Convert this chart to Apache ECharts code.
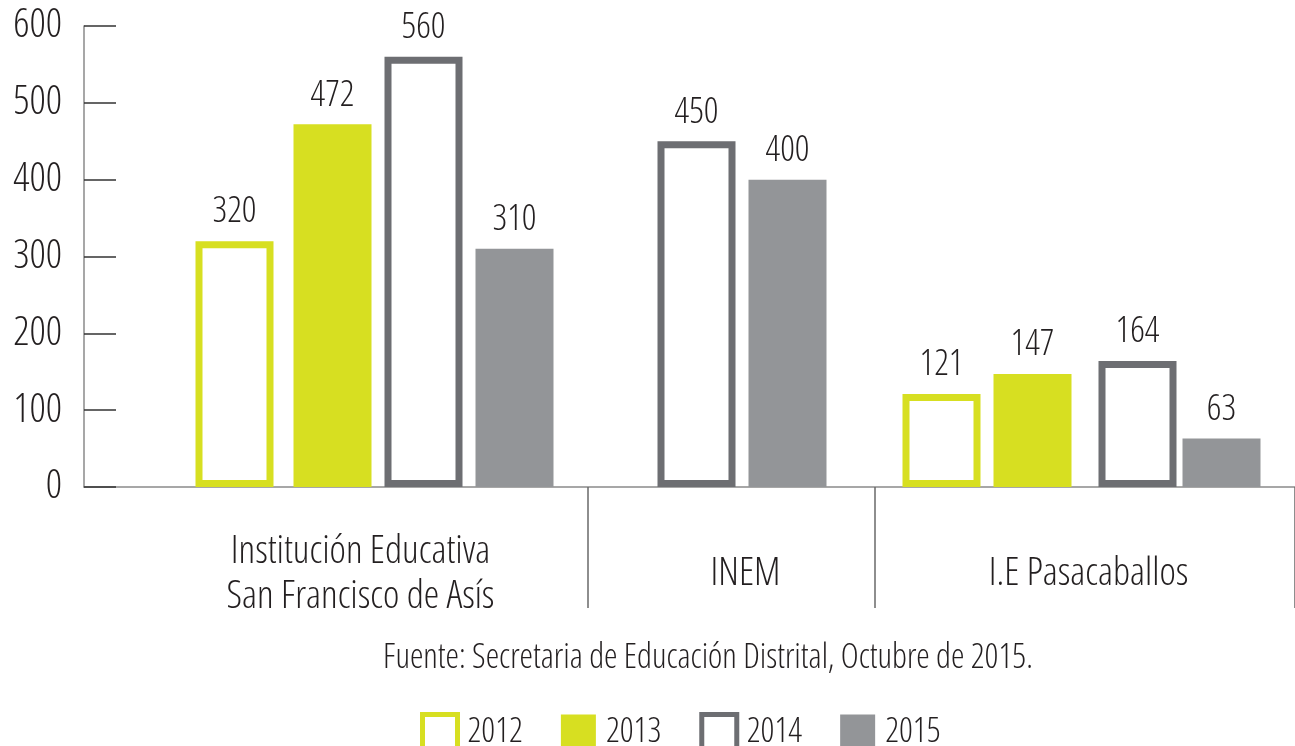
<!DOCTYPE html>
<html>
<head>
<meta charset="utf-8">
<title>Matrícula</title>
<script src="https://cdn.jsdelivr.net/npm/echarts@6.0.0/dist/echarts.min.js"></script>
<style>
	html, body { margin: 0; padding: 0; background: #fff; }
	#main { width: 1295px; height: 746px; }
</style>
</head>
<body>
<div id="main"></div>
<script>
// datos
var groups = ['Institución Educativa\nSan Francisco de Asís', 'INEM', 'I.E Pasacaballos'];
var years = ['2012', '2013', '2014', '2015'];
var data2012 = [320, null, 121];
var data2013 = [472, null, 147];
var data2014 = [560, 450, 164];
var data2015 = [310, 400, 63];
var source = 'Fuente: Secretaria de Educación Distrital, Octubre de 2015.';

// layout: the x axis is cut in narrow slots so the groups can sit unevenly
var SLOTS = 173;
var barSlots = [[21, 35, 48, 61], [null, null, 87, 100], [122, 135, 150, 162]];
var labelSlots = [39, 94, 143];
var sepSlots = [72, 113];

var LIME = '#d7df21';
var DARK = '#6d6e72';
var LIGHT = '#939598';
var TXT = '#231f20';
// light condensed face of Open Sans (weight + stretch go in front of the size)
var FONT = "'Open Sans', sans-serif";
var STRETCH = '300 condensed';

var cats = [];
for (var i = 0; i < SLOTS; i++) cats.push('');
groups.forEach(function (g, gi) { cats[labelSlots[gi]] = g; });

function spread(values, yi) {
	var arr = [];
	for (var i = 0; i < SLOTS; i++) arr.push(null);
	values.forEach(function (v, gi) {
		if (v != null) arr[barSlots[gi][yi]] = v;
	});
	return arr;
}

var styles = [
	{ color: '#fff', borderColor: LIME, borderWidth: 7 },
	{ color: LIME },
	{ color: '#fff', borderColor: DARK, borderWidth: 7 },
	{ color: LIGHT }
];
var values = [data2012, data2013, data2014, data2015];

var series = years.map(function (y, yi) {
	return {
		name: y,
		type: 'bar',
		barWidth: 78,
		barGap: '-100%',
		itemStyle: styles[yi],
		label: {
			show: true,
			position: 'top',
			distance: 11,
			color: TXT,
			fontSize: 36,
			fontWeight: STRETCH,
			fontFamily: FONT
		},
		data: spread(values[yi], yi)
	};
});

var myChart = echarts.init(document.getElementById('main'));
var option = {
	animation: false,
	title: {
		text: source,
		left: 703,
		top: 636,
		textAlign: 'center',
		textStyle: { color: TXT, fontSize: 34, fontWeight: STRETCH, fontFamily: FONT }
	},
	legend: {
		left: 420,
		top: 712,
		padding: 0,
		itemWidth: 35,
		itemHeight: 36,
		itemGap: 38,
		textStyle: { color: TXT, fontSize: 34, fontWeight: STRETCH, fontFamily: FONT, padding: [0, 0, 0, 5] },
		data: years.map(function (y, yi) {
			return { name: y, icon: 'rect', itemStyle: { borderWidth: styles[yi].borderWidth ? 5 : 0 } };
		})
	},
	grid: { left: 84, right: 0, top: 26, bottom: 259 },
	xAxis: {
		type: 'category',
		data: cats,
		axisLine: { lineStyle: { color: '#8a8a8a', width: 1.5 } },
		axisTick: {
			show: true,
			interval: function (idx) { return sepSlots.indexOf(idx) >= 0; },
			length: 121,
			lineStyle: { color: '#6a6a6a', width: 1.5 }
		},
		axisLabel: {
			interval: 0,
			margin: 87,
			verticalAlign: 'middle',
			color: TXT,
			fontSize: 39,
			lineHeight: 45,
			fontWeight: STRETCH,
			fontFamily: FONT
		}
	},
	yAxis: {
		type: 'value',
		min: 0,
		max: 600,
		interval: 100,
		splitLine: { show: false },
		axisLine: { show: true, lineStyle: { color: '#8a8a8a', width: 1.5 } },
		axisTick: { show: true, inside: true, length: 32, lineStyle: { color: '#333', width: 1.5 } },
		axisLabel: { margin: 22, color: TXT, fontSize: 40, fontWeight: STRETCH, fontFamily: FONT }
	},
	series: series
};
myChart.setOption(option);
</script>
</body>
</html>
